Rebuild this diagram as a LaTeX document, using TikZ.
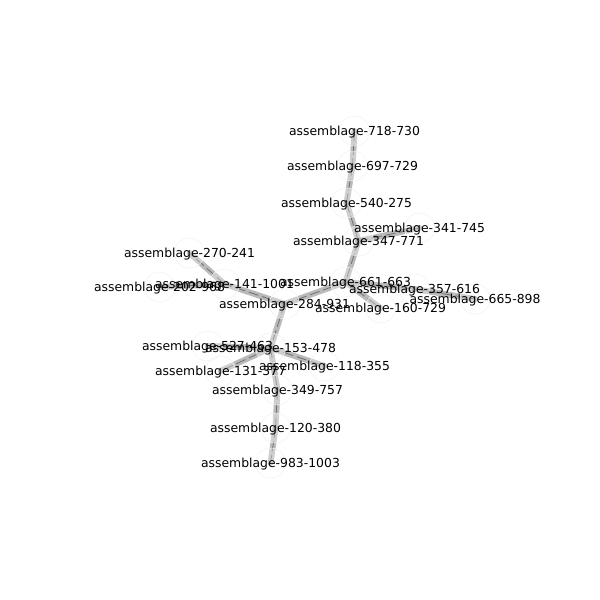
\documentclass[tikz,border=0pt]{standalone}
\usepackage{fontspec}
\setmainfont{DejaVu Sans}
\usepackage{tikz}
\tikzset{>=latex}
\definecolor{edgegray}{RGB}{140, 140, 140}
\definecolor{ringgray}{RGB}{242, 242, 242}

\begin{document}
\begin{tikzpicture}[
    x = 0.72pt, y = -0.72pt,
    e0/.style = {line width = 4.3pt, edgegray, draw opacity = 0.6, line cap = round,
                 postaction = {draw, line width = 0.6pt, black!60, draw opacity = 0.85, dash pattern = on 7pt off 3pt}},
    nd/.style = {circle, minimum size = 21.6pt, inner sep = 0pt, fill = white, fill opacity = 0.3, draw = ringgray},
    lb/.style = {font = \fontsize{8.93}{10}\selectfont, inner sep = 0pt, yshift = -0.8pt},
]
\useasboundingbox (0,0) rectangle (600,600);

% vertex positions
\coordinate (a718) at (354.5, 131);
\coordinate (a697) at (352.5, 166);
\coordinate (a540) at (346.5, 203);
\coordinate (a341) at (419.5, 228);
\coordinate (a347) at (358.5, 241);
\coordinate (a270) at (189.5, 253);
\coordinate (a141) at (224.5, 284);
\coordinate (a202) at (159.5, 287);
\coordinate (a661) at (345.5, 282);
\coordinate (a357) at (414.5, 289);
\coordinate (a665) at (475, 299);
\coordinate (a284) at (284.5, 304);
\coordinate (a160) at (380.5, 308);
\coordinate (a527) at (207.5, 346);
\coordinate (a153) at (270.5, 348);
\coordinate (a131) at (220.5, 371);
\coordinate (a118) at (324.5, 366);
\coordinate (a349) at (277.5, 390);
\coordinate (a120) at (275.5, 428);
\coordinate (a983) at (270.5, 463);

% edges
\draw[e0] (a718) -- (a697);
\draw[e0] (a697) -- (a540);
\draw[e0] (a540) -- (a347);
\draw[e0] (a347) -- (a341);
\draw[e0] (a347) -- (a661);
\draw[e0] (a661) -- (a357);
\draw[e0] (a357) -- (a665);
\draw[e0] (a661) -- (a160);
\draw[e0] (a661) -- (a284);
\draw[e0] (a284) -- (a141);
\draw[e0] (a141) -- (a270);
\draw[e0] (a141) -- (a202);
\draw[e0] (a284) -- (a153);
\draw[e0] (a153) -- (a527);
\draw[e0] (a153) -- (a131);
\draw[e0] (a153) -- (a118);
\draw[e0] (a153) -- (a349);
\draw[e0] (a349) -- (a120);
\draw[e0] (a120) -- (a983);

% vertices and labels
\foreach \v/\t in {718/718-730, 697/697-729, 540/540-275, 341/341-745, 347/347-771,
                   270/270-241, 141/141-1001, 202/202-968, 661/661-663, 357/357-616,
                   665/665-898, 284/284-931, 160/160-729, 527/527-463, 153/153-478,
                   131/131-377, 118/118-355, 349/349-757, 120/120-380, 983/983-1003}
    \node[nd] (n\v) at (a\v) {};
\foreach \v/\t in {718/718-730, 697/697-729, 540/540-275, 341/341-745, 347/347-771,
                   270/270-241, 141/141-1001, 202/202-968, 661/661-663, 357/357-616,
                   665/665-898, 284/284-931, 160/160-729, 527/527-463, 153/153-478,
                   131/131-377, 118/118-355, 349/349-757, 120/120-380, 983/983-1003}
    \node[lb] (l\v) at (n\v) {assemblage-\t};
\end{tikzpicture}
\end{document}
